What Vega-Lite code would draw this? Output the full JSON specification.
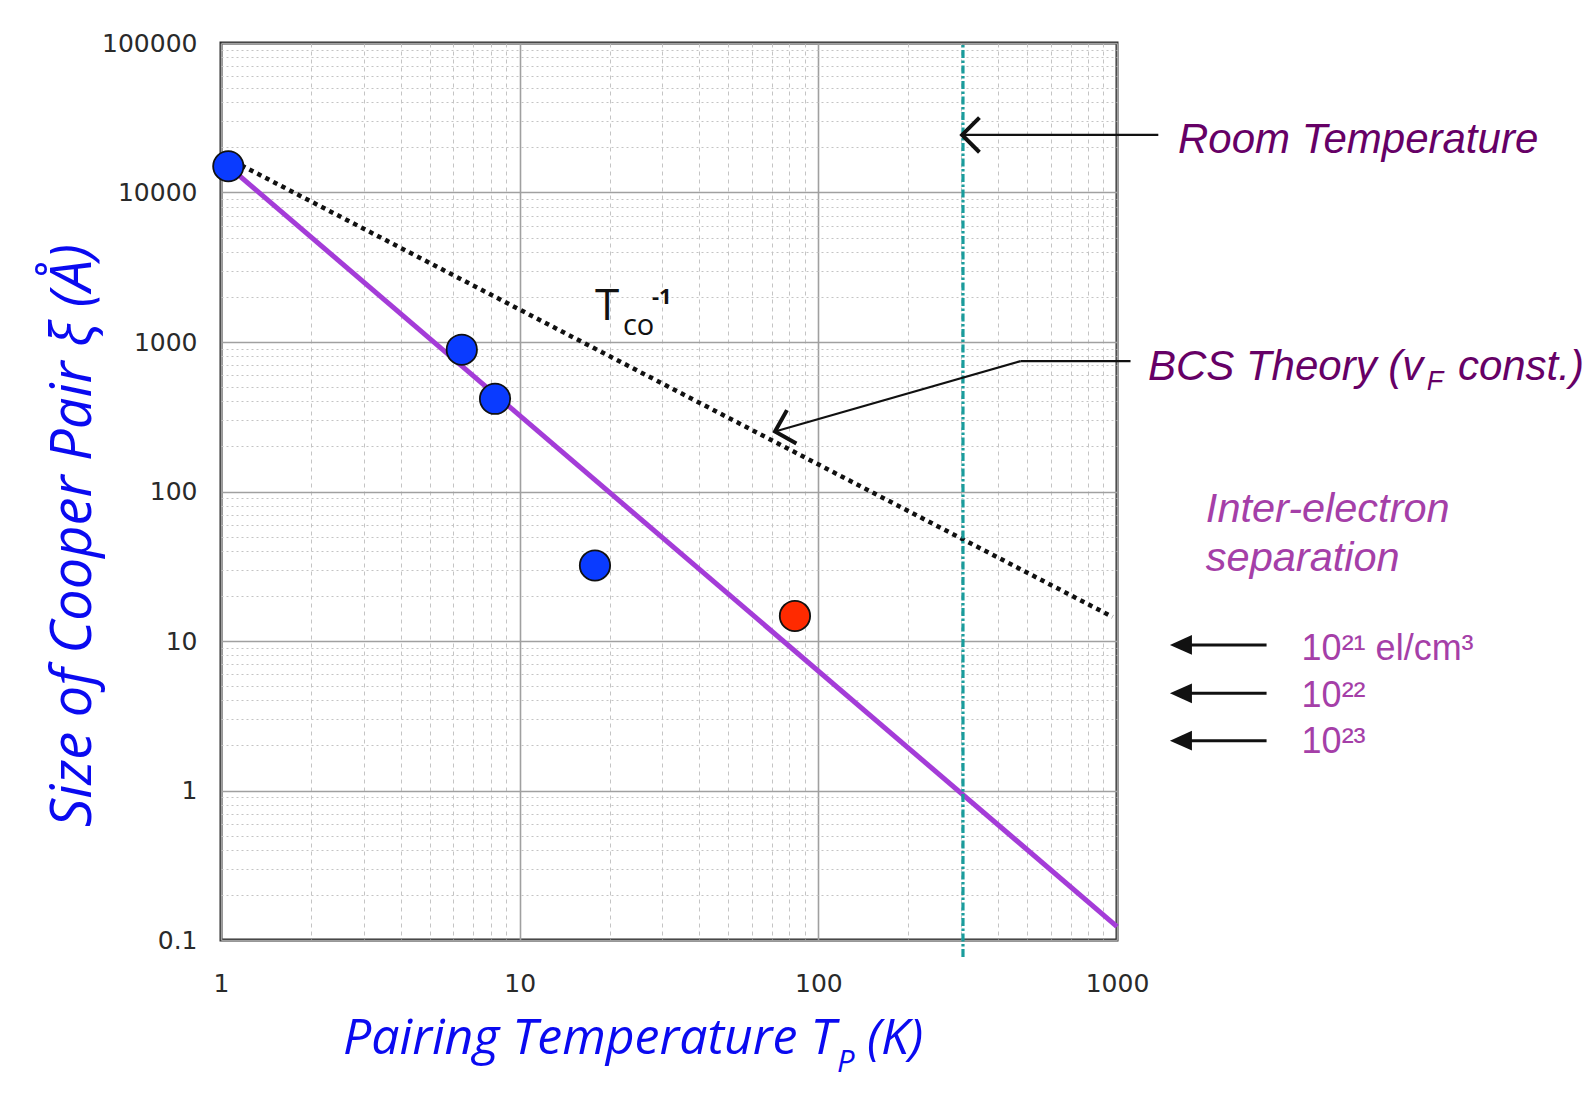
{
  "$schema": "https://vega.github.io/schema/vega-lite/v6.json",
  "width": 896,
  "height": 897,
  "autosize": {"type": "none"},
  "padding": {"left": 221, "top": 43, "right": 479, "bottom": 161},
  "background": "white",
  "config": {"view": {"stroke": "#2a2a2a", "strokeWidth": 3}},
  "encoding": {
    "x": {
      "field": "T", "type": "quantitative",
      "scale": {"type": "log", "domain": [1, 1000], "nice": false},
      "axis": {
        "title": null,
        "values": [1,2,3,4,5,6,7,8,9,10,20,30,40,50,60,70,80,90,100,200,300,400,500,600,700,800,900,1000],
        "labelExpr": "abs(log(datum.value)/LN10 - round(log(datum.value)/LN10)) < 0.001 ? format(datum.value, '') : ''",
        "labelOverlap": false, "labelFlush": false,
        "labelFont": "DejaVu Sans", "labelFontSize": 25, "labelColor": "#2a2a2a", "labelPadding": 31,
        "ticks": false, "domain": false, "grid": true,
        "gridColor": {"condition": {"test": "abs(log(datum.value)/LN10 - round(log(datum.value)/LN10)) < 0.001", "value": "#a0a0a0"}, "value": "#c4c4c4"},
        "gridDash": {"condition": {"test": "abs(log(datum.value)/LN10 - round(log(datum.value)/LN10)) < 0.001", "value": []}, "value": [4, 4]},
        "gridWidth": {"condition": {"test": "abs(log(datum.value)/LN10 - round(log(datum.value)/LN10)) < 0.001", "value": 1.6}, "value": 1}
      }
    },
    "y": {
      "field": "xi", "type": "quantitative",
      "scale": {"type": "log", "domain": [0.1, 100000], "nice": false},
      "axis": {
        "title": "Size of Cooper Pair ξ (Å)",
        "titleFont": "Open Sans", "titleFontStyle": "italic", "titleFontWeight": "normal",
        "titleFontSize": 56, "titleColor": "#0a0af0",
        "titleAngle": 270, "titleAlign": "center", "titleBaseline": "alphabetic",
        "titleX": -131, "titleY": 492,
        "values": [0.1,0.2,0.3,0.4,0.5,0.6,0.7,0.8,0.9,1,2,3,4,5,6,7,8,9,10,20,30,40,50,60,70,80,90,100,200,300,400,500,600,700,800,900,1000,2000,3000,4000,5000,6000,7000,8000,9000,10000,20000,30000,40000,50000,60000,70000,80000,90000,100000],
        "labelExpr": "abs(log(datum.value)/LN10 - round(log(datum.value)/LN10)) < 0.001 ? format(datum.value, '') : ''",
        "labelOverlap": false, "labelFlush": false,
        "labelFont": "DejaVu Sans", "labelFontSize": 25, "labelColor": "#2a2a2a", "labelPadding": 24,
        "ticks": false, "domain": false, "grid": true,
        "gridColor": {"condition": {"test": "abs(log(datum.value)/LN10 - round(log(datum.value)/LN10)) < 0.001", "value": "#a0a0a0"}, "value": "#c4c4c4"},
        "gridDash": {"condition": {"test": "abs(log(datum.value)/LN10 - round(log(datum.value)/LN10)) < 0.001", "value": []}, "value": [2, 3]},
        "gridWidth": {"condition": {"test": "abs(log(datum.value)/LN10 - round(log(datum.value)/LN10)) < 0.001", "value": 1.6}, "value": 1}
      }
    }
  },
  "layer": [
    {
      "data": {"values": [{"T": 1.058, "xi": 14980}, {"T": 1000, "xi": 0.123}]},
      "mark": {"type": "line", "color": "#a43cd8", "strokeWidth": 5}
    },
    {
      "data": {"values": [{"T": 1.1, "xi": 16200}, {"T": 966, "xi": 14.5}]},
      "mark": {"type": "line", "color": "#111", "strokeWidth": 4.5, "strokeDash": [4.5, 4.5]}
    },
    {
      "data": {"values": [{"T": 305, "xi": 0.077, "xi2": 100000}]},
      "mark": {"type": "rule", "color": "#1a9c9c", "strokeWidth": 3.2, "strokeDash": [8, 2.5, 2.5, 2.5]},
      "encoding": {"y2": {"field": "xi2"}}
    },
    {
      "data": {"values": [
        {"T": 1375, "xi": 24260, "T2": 303, "xi2": 24260},
        {"T": 1110, "xi": 745, "T2": 476, "xi2": 745},
        {"T": 476, "xi": 745, "T2": 71.6, "xi2": 252}
      ]},
      "mark": {"type": "rule", "color": "#111", "strokeWidth": 2.2},
      "encoding": {"x2": {"field": "T2"}, "y2": {"field": "xi2"}}
    },
    {
      "data": {"values": [
        {"T": 3168, "xi": 9.42, "T2": 1560, "xi2": 9.42},
        {"T": 3168, "xi": 4.47, "T2": 1560, "xi2": 4.47},
        {"T": 3168, "xi": 2.154, "T2": 1560, "xi2": 2.154}
      ]},
      "mark": {"type": "rule", "color": "#111", "strokeWidth": 3},
      "encoding": {"x2": {"field": "T2"}, "y2": {"field": "xi2"}}
    },
    {
      "data": {"values": [{"T": 303, "xi": 24260}]},
      "mark": {"type": "point", "shape": "M1,-1L0,0L1,1", "filled": false, "stroke": "#111", "strokeWidth": 4, "size": 1200, "opacity": 1}
    },
    {
      "data": {"values": [{"T": 71.6, "xi": 252}]},
      "mark": {"type": "point", "shape": "M1,-1L0,0L1,1", "filled": false, "stroke": "#111", "strokeWidth": 4, "size": 1200, "angle": 344.2, "opacity": 1}
    },
    {
      "data": {"values": [{"T": 1504, "xi": 9.42}, {"T": 1504, "xi": 4.47}, {"T": 1504, "xi": 2.154}]},
      "mark": {"type": "point", "shape": "M0,0L2,-0.9L2,0.9Z", "filled": true, "color": "#111", "size": 484, "opacity": 1}
    },
    {
      "data": {"values": [
        {"T": 1.058, "xi": 14980, "class": "conventional"},
        {"T": 6.40, "xi": 888, "class": "conventional"},
        {"T": 8.27, "xi": 417, "class": "conventional"},
        {"T": 17.87, "xi": 32.0, "class": "conventional"},
        {"T": 83.5, "xi": 14.7, "class": "cuprate"}
      ]},
      "mark": {"type": "point", "shape": "circle", "filled": true, "size": 920, "stroke": "#111", "strokeWidth": 1.8, "opacity": 1},
      "encoding": {
        "color": {"field": "class", "type": "nominal", "scale": {"domain": ["conventional", "cuprate"], "range": ["#0a3bff", "#ff2a00"]}, "legend": null}
      }
    },
    {
      "data": {"values": [{"T": 1600, "xi": 18500, "label": "Room Temperature"}, {"T": 1269, "xi": 559.5, "label": "BCS Theory (v"}, {"T": 13846, "xi": 559.5, "label": "const.)"}]},
      "mark": {"type": "text", "font": "Liberation Sans", "fontStyle": "italic", "fontSize": 42, "color": "#660066", "align": "left", "baseline": "alphabetic"},
      "encoding": {"text": {"field": "label"}}
    },
    {
      "data": {"values": [{"T": 10900, "xi": 479.6, "label": "F"}]},
      "mark": {"type": "text", "font": "Liberation Sans", "fontStyle": "italic", "fontSize": 27, "color": "#660066", "align": "left", "baseline": "alphabetic"},
      "encoding": {"text": {"field": "label"}}
    },
    {
      "data": {"values": [{"T": 1984, "xi": 62.7, "label": "Inter-electron"}, {"T": 1984, "xi": 29.5, "label": "separation"}]},
      "mark": {"type": "text", "font": "Liberation Sans", "fontStyle": "italic", "fontSize": 41.5, "color": "#a53fa8", "align": "left", "baseline": "alphabetic"},
      "encoding": {"text": {"field": "label"}}
    },
    {
      "data": {"values": [{"T": 4150, "xi": 7.47, "label": "10²¹ el/cm³"}, {"T": 4150, "xi": 3.64, "label": "10²²"}, {"T": 4150, "xi": 1.775, "label": "10²³"}]},
      "mark": {"type": "text", "font": "Liberation Sans", "fontSize": 36, "color": "#a53fa8", "align": "left", "baseline": "alphabetic"},
      "encoding": {"text": {"field": "label"}}
    },
    {
      "data": {"values": [{"T": 17.87, "xi": 1410, "label": "T"}]},
      "mark": {"type": "text", "font": "Open Sans", "fontSize": 44, "color": "#111", "align": "left", "baseline": "alphabetic"},
      "encoding": {"text": {"field": "label"}}
    },
    {
      "data": {"values": [{"T": 22.17, "xi": 1119, "label": "co"}]},
      "mark": {"type": "text", "font": "Open Sans", "fontSize": 29, "color": "#111", "align": "left", "baseline": "alphabetic"},
      "encoding": {"text": {"field": "label"}}
    },
    {
      "data": {"values": [{"T": 27.73, "xi": 1804, "label": "-1"}]},
      "mark": {"type": "text", "font": "Open Sans", "fontSize": 22, "fontWeight": "bold", "color": "#111", "align": "left", "baseline": "alphabetic"},
      "encoding": {"text": {"field": "label"}}
    },
    {
      "data": {"values": [{"T": 2.561, "xi": 0.01737, "label": "Pairing Temperature T"}, {"T": 145.4, "xi": 0.01737, "label": "(K)"}]},
      "mark": {"type": "text", "font": "Open Sans", "fontStyle": "italic", "fontSize": 50, "color": "#0a0af0", "align": "left", "baseline": "alphabetic"},
      "encoding": {"text": {"field": "label"}}
    },
    {
      "data": {"values": [{"T": 115.4, "xi": 0.01306, "label": "P"}]},
      "mark": {"type": "text", "font": "Open Sans", "fontStyle": "italic", "fontSize": 31, "color": "#0a0af0", "align": "left", "baseline": "alphabetic"},
      "encoding": {"text": {"field": "label"}}
    }
  ]
}
